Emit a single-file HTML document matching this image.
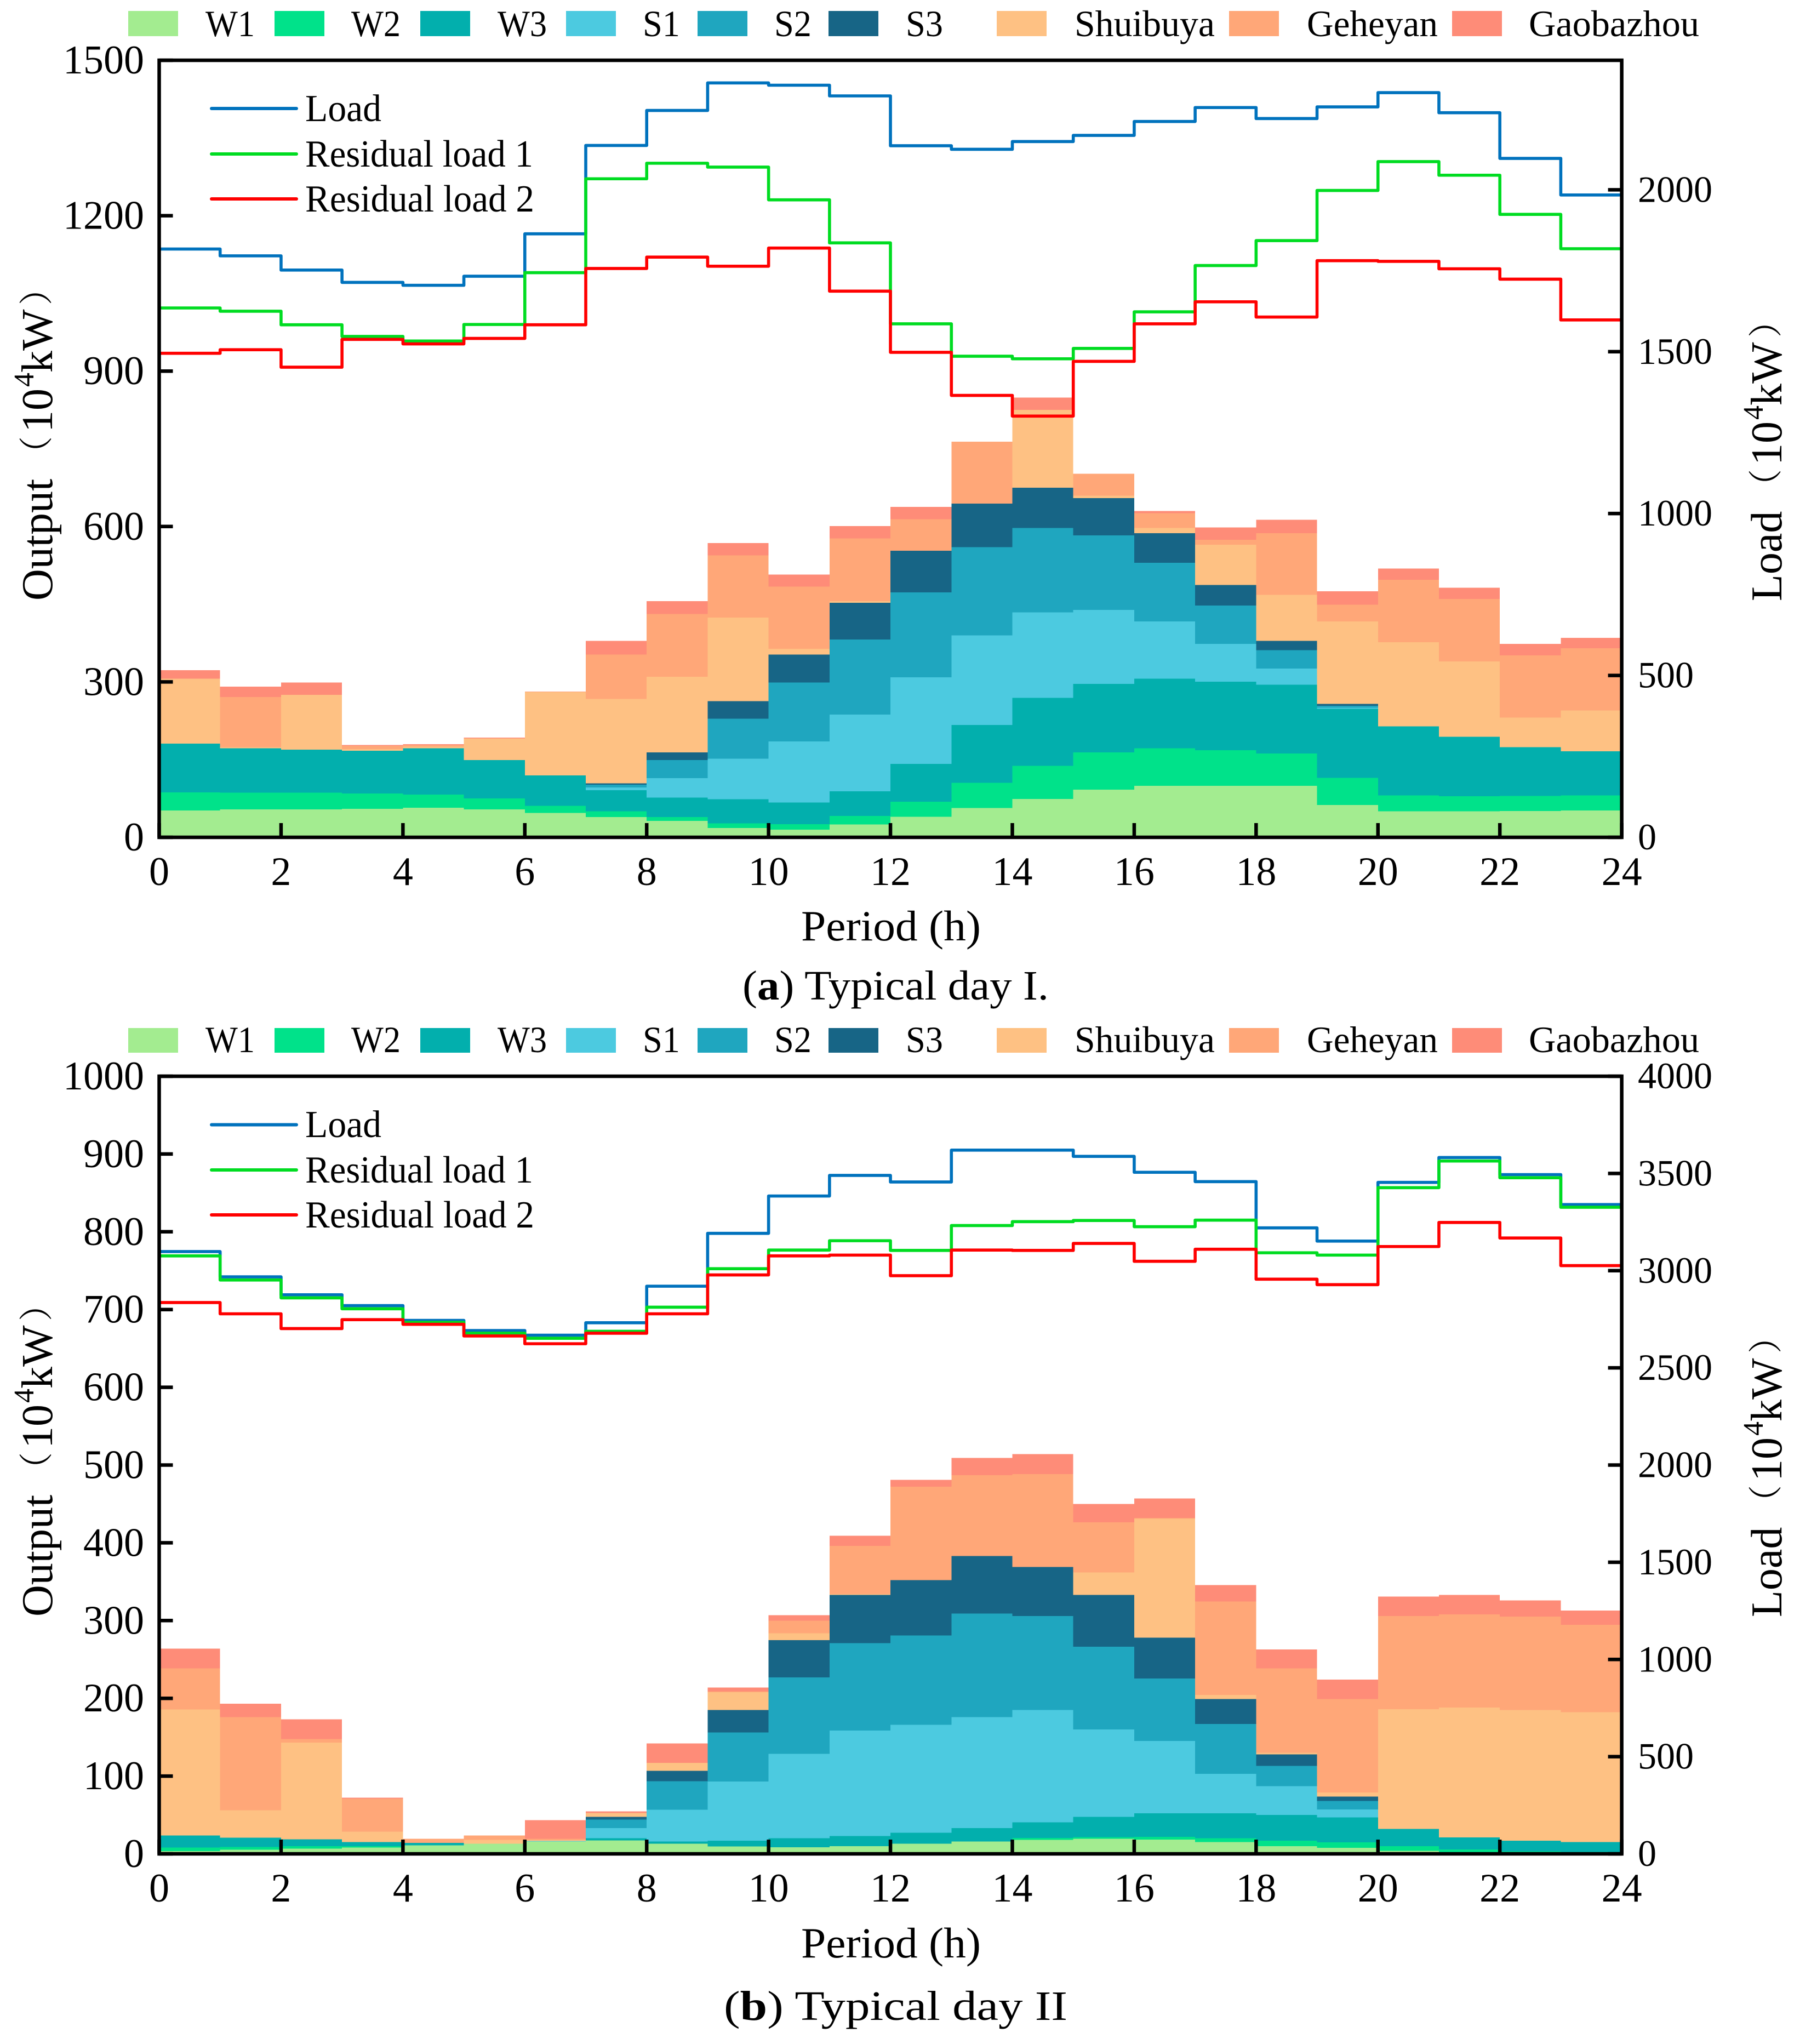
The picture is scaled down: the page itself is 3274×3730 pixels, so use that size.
<!DOCTYPE html>
<html lang="en">
<head>
<meta charset="utf-8">
<title>Typical day output and load</title>
<style>
html,body{margin:0;padding:0;background:#fff;}
svg{display:block;}
text{font-family:"Liberation Serif","Noto Serif CJK SC",serif;fill:#000;}
.lg{font-size:68px;}
.il{font-size:70px;}
.at{font-size:80px;}
.xt{font-size:78px;}
.cap{font-size:76px;}
.pn{font-size:62px;}
.su{font-size:52px;}
</style>
</head>
<body>
<svg id="figure" xmlns="http://www.w3.org/2000/svg" width="3274" height="3730" viewBox="0 0 3274 3730">
  <rect x="0" y="0" width="3274" height="3730" fill="#ffffff"/>

  <g id="panel-a"></g>
  <g id="panel-b"></g>

  <!-- Top legend, panel a -->
  <g>
    <g><rect x="234" y="20" width="91" height="46" fill="#A3EC90"/><text class="lg" x="375" y="66" textLength="90" lengthAdjust="spacingAndGlyphs">W1</text></g>
    <g><rect x="501" y="20" width="91" height="46" fill="#00E28A"/><text class="lg" x="641" y="66" textLength="90" lengthAdjust="spacingAndGlyphs">W2</text></g>
    <g><rect x="767" y="20" width="91" height="46" fill="#02AFAD"/><text class="lg" x="908" y="66" textLength="90" lengthAdjust="spacingAndGlyphs">W3</text></g>
    <g><rect x="1033" y="20" width="91" height="46" fill="#4CCAE0"/><text class="lg" x="1173" y="66" textLength="68" lengthAdjust="spacingAndGlyphs">S1</text></g>
    <g><rect x="1273" y="20" width="91" height="46" fill="#1FA6BF"/><text class="lg" x="1413" y="66" textLength="68" lengthAdjust="spacingAndGlyphs">S2</text></g>
    <g><rect x="1512" y="20" width="91" height="46" fill="#176586"/><text class="lg" x="1653" y="66" textLength="68" lengthAdjust="spacingAndGlyphs">S3</text></g>
    <g><rect x="1819" y="20" width="91" height="46" fill="#FEC183"/><text class="lg" x="1961" y="66" textLength="256" lengthAdjust="spacingAndGlyphs">Shuibuya</text></g>
    <g><rect x="2243" y="20" width="91" height="46" fill="#FFA778"/><text class="lg" x="2385" y="66" textLength="239" lengthAdjust="spacingAndGlyphs">Geheyan</text></g>
    <g><rect x="2650" y="20" width="91" height="46" fill="#FE8C78"/><text class="lg" x="2790" y="66" textLength="311" lengthAdjust="spacingAndGlyphs">Gaobazhou</text></g>
  </g>

  <!-- Line legend, panel a -->
  <g>
    <g><line x1="386" y1="198" x2="541" y2="198" stroke="#0072BD" stroke-width="6" stroke-linecap="round"/><text class="il" x="557" y="221" textLength="139" lengthAdjust="spacingAndGlyphs">Load</text></g>
    <g><line x1="386" y1="281" x2="541" y2="281" stroke="#00DC21" stroke-width="6" stroke-linecap="round"/><text class="il" x="557" y="304" textLength="416" lengthAdjust="spacingAndGlyphs">Residual load 1</text></g>
    <g><line x1="386" y1="363" x2="541" y2="363" stroke="#FF0000" stroke-width="6" stroke-linecap="round"/><text class="il" x="557" y="386" textLength="418" lengthAdjust="spacingAndGlyphs">Residual load 2</text></g>
  </g>

  <text class="at" transform="translate(95,1100) rotate(-90)"><tspan x="4" y="0">Output</tspan><tspan class="pn" x="242" y="-7">（</tspan><tspan x="311" y="0">10</tspan><tspan class="su" x="394" y="-34">4</tspan><tspan x="420" y="0">kW</tspan><tspan class="pn" x="543" y="-7">）</tspan></text>
  <text class="at" transform="translate(3251,1098) rotate(-90)"><tspan x="1" y="0">Load</tspan><tspan class="pn" x="180" y="-7">（</tspan><tspan x="249" y="0">10</tspan><tspan class="su" x="332" y="-34">4</tspan><tspan x="358" y="0">kW</tspan><tspan class="pn" x="482" y="-7">）</tspan></text>
  <text class="xt" x="1462" y="1716" textLength="328" lengthAdjust="spacingAndGlyphs">Period (h)</text>
  <text class="cap" x="1355" y="1824" textLength="559" lengthAdjust="spacingAndGlyphs">(<tspan font-weight="bold">a</tspan>) Typical day I.</text>

  <!-- Top legend, panel b -->
  <g>
    <g><rect x="234" y="1876" width="91" height="45" fill="#A3EC90"/><text class="lg" x="375" y="1920" textLength="90" lengthAdjust="spacingAndGlyphs">W1</text></g>
    <g><rect x="501" y="1876" width="91" height="45" fill="#00E28A"/><text class="lg" x="641" y="1920" textLength="90" lengthAdjust="spacingAndGlyphs">W2</text></g>
    <g><rect x="767" y="1876" width="91" height="45" fill="#02AFAD"/><text class="lg" x="908" y="1920" textLength="90" lengthAdjust="spacingAndGlyphs">W3</text></g>
    <g><rect x="1033" y="1876" width="91" height="45" fill="#4CCAE0"/><text class="lg" x="1173" y="1920" textLength="68" lengthAdjust="spacingAndGlyphs">S1</text></g>
    <g><rect x="1273" y="1876" width="91" height="45" fill="#1FA6BF"/><text class="lg" x="1413" y="1920" textLength="68" lengthAdjust="spacingAndGlyphs">S2</text></g>
    <g><rect x="1512" y="1876" width="91" height="45" fill="#176586"/><text class="lg" x="1653" y="1920" textLength="68" lengthAdjust="spacingAndGlyphs">S3</text></g>
    <g><rect x="1819" y="1876" width="91" height="45" fill="#FEC183"/><text class="lg" x="1961" y="1920" textLength="256" lengthAdjust="spacingAndGlyphs">Shuibuya</text></g>
    <g><rect x="2243" y="1876" width="91" height="45" fill="#FFA778"/><text class="lg" x="2385" y="1920" textLength="239" lengthAdjust="spacingAndGlyphs">Geheyan</text></g>
    <g><rect x="2650" y="1876" width="91" height="45" fill="#FE8C78"/><text class="lg" x="2790" y="1920" textLength="311" lengthAdjust="spacingAndGlyphs">Gaobazhou</text></g>
  </g>

  <!-- Line legend, panel b -->
  <g>
    <g><line x1="386" y1="2052.5" x2="541" y2="2052.5" stroke="#0072BD" stroke-width="6" stroke-linecap="round"/><text class="il" x="557" y="2075" textLength="139" lengthAdjust="spacingAndGlyphs">Load</text></g>
    <g><line x1="386" y1="2135" x2="541" y2="2135" stroke="#00DC21" stroke-width="6" stroke-linecap="round"/><text class="il" x="557" y="2158" textLength="416" lengthAdjust="spacingAndGlyphs">Residual load 1</text></g>
    <g><line x1="386" y1="2217" x2="541" y2="2217" stroke="#FF0000" stroke-width="6" stroke-linecap="round"/><text class="il" x="557" y="2240" textLength="418" lengthAdjust="spacingAndGlyphs">Residual load 2</text></g>
  </g>

  <text class="at" transform="translate(95,2954) rotate(-90)"><tspan x="4" y="0">Output</tspan><tspan class="pn" x="242" y="-7">（</tspan><tspan x="311" y="0">10</tspan><tspan class="su" x="394" y="-34">4</tspan><tspan x="420" y="0">kW</tspan><tspan class="pn" x="543" y="-7">）</tspan></text>
  <text class="at" transform="translate(3251,2952) rotate(-90)"><tspan x="1" y="0">Load</tspan><tspan class="pn" x="180" y="-7">（</tspan><tspan x="249" y="0">10</tspan><tspan class="su" x="332" y="-34">4</tspan><tspan x="358" y="0">kW</tspan><tspan class="pn" x="482" y="-7">）</tspan></text>
  <text class="xt" x="1462" y="3572" textLength="328" lengthAdjust="spacingAndGlyphs">Period (h)</text>
  <text class="cap" x="1321" y="3686" textLength="627" lengthAdjust="spacingAndGlyphs">(<tspan font-weight="bold">b</tspan>) Typical day II</text>
</svg>

<script>
// Shared categories and tick labels
const hourTickLabels = [0, 2, 4, 6, 8, 10, 12, 14, 16, 18, 20, 22, 24];
const seriesNames = ['w1', 'w2', 'w3', 's1', 's2', 's3', 'shuibuya', 'geheyan', 'gaobazhou'];
const lineNames = ['load', 'residual-load-1', 'residual-load-2'];

// Typical day I: hourly output, 10^4 kW (left axis)
const day1W1 = [52,54,54,55,57,54,47,39,31.6,18,15,25,39.5,56.5,74,92,99.6,99.6,99.6,62.5,50,50,51,51.6];
const day1W2 = [35,32,32,29.5,25.6,21,14,11,7.4,9,10.5,16,29.5,48.5,64,72,72.4,68.4,62.4,52.5,31,29.5,29,29.4];
const day1W3 = [94,86,83.5,82.5,89.4,74,58.5,41,37.5,46.5,41.5,48,73,112,131,132,134,132.6,132.5,133,133,114.5,94,85];
const day1S1 = [0,0,0,0,0,0,0,5,37.5,78.5,118,148,167,173,165,143,111,73,31.5,2,0,0,0,0];
const day1S2 = [0,0,0,0,0,0,0,5.5,35,77,114,145,164,170,163,144,113,74.1,35,4,0,0,0,0];
const day1S3 = [0,0,0,0,0,0,0,2.5,15,34,54,71,80,84,78,72,57,39.4,18,3.5,0,0,0,0];
const day1Shuibuya = [125.5,2,105.5,3.5,3,42,161.5,163,146,161,11,3,0,0,150,4.5,10,78,89,159.1,162.5,145.5,57,79];
const day1Geheyan = [0,97,0,6.1,3,0,0,86,121,120,120,121,61,120,0,42.5,28.5,9.5,119,32.4,120.5,120.5,120,120];
const day1Gaobazhou = [16,20,24,1.4,2,1.7,0.5,26,25,24,23,24,24,0,24,0,4.5,23.5,26,26,22,22,22.5,20];

// Typical day I: load curves, 10^4 kW (right axis)
const day1Load = [1817,1796,1752,1714,1705,1733,1864,2137,2245,2330,2323,2290,2136,2125,2149,2168,2211,2254,2220,2256,2300,2238,2097,1984];
const day1Residual1 = [1635,1625,1583,1547,1533,1584,1744,2034,2082,2070,1969,1836,1586,1486,1478,1510,1623,1766,1843,1998,2087,2045,1924,1818];
const day1Residual2 = [1495,1506,1452,1538,1524,1541,1583,1757,1792,1764,1820,1687,1498,1365,1301,1470,1586,1654,1607,1781,1779,1756,1724,1598];

// Typical day I: tick labels
const day1LeftTicks = [0, 300, 600, 900, 1200, 1500];
const day1RightTicks = [0, 500, 1000, 1500, 2000];

// Typical day II: hourly output, 10^4 kW (left axis)
const day2W1 = [3.5,5.3,6.6,8,11,13,16,17.3,13,9.4,8.5,10,13,15.7,18,19.3,18.4,15,10,7.6,4,2,2,1.5];
const day2W2 = [4.5,3.5,3.2,2,0,0,0,0,0,0,0,0,0,0,2.6,2.3,3.6,5,6.8,7.1,6,3.6,1,1];
const day2W3 = [15.6,12,8.8,5,3,0,0,2.7,2.7,7.6,11.5,13,14,17.3,19.8,26,30,32,33.2,32,22,15.4,14,12.5];
const day2S1 = [0,0,0,0,0,0,0.7,13,40.9,76,108.5,135.6,139,143,144.6,112.4,93,51,37,10.3,0,0,0,0];
const day2S2 = [0,0,0,0,0,0,0,11,36.8,63,98.5,112.4,115,133,121,106.5,80.6,64,26,11,0,0,0,0];
const day2S3 = [0,0,0,0,0,0,0,3.5,13.2,29,48,62,71,74,63,66.5,52.4,32,15,5.6,0,0,0,0];
const day2Shuibuya = [162,35.2,124.4,13.6,0,5,0.9,5,10.4,23,8.6,1,0,0,0,29,153,5.5,2,5.4,154,167,168,167];
const day2Geheyan = [52.9,120,4.5,42.4,5.5,5.6,1.9,0,0,1,16.4,62,120,104,119.5,64.5,1,120,108.7,120,120,120,120,112.6];
const day2Gaobazhou = [25.5,17,25.5,1.4,0,0,23.9,2.2,25,5,7,13,9,22,25.5,23.5,25,21.1,24.3,25,25,25,21,18.4];

// Typical day II: load curves, 10^4 kW (right axis)
const day2Load = [3098,2968,2876,2820,2744,2692,2668,2732,2920,3192,3384,3490,3456,3620,3620,3588,3506,3458,3220,3152,3454,3582,3494,3340];
const day2Residual1 = [3076,2952,2860,2804,2734,2678,2652,2688,2812,3010,3106,3154,3104,3232,3252,3258,3226,3260,3092,3080,3427,3564,3478,3326];
const day2Residual2 = [2836,2778,2702,2748,2724,2664,2624,2678,2778,2978,3076,3080,2974,3106,3104,3140,3048,3110,2956,2928,3124,3248,3168,3026];

// Typical day II: tick labels
const day2LeftTicks = [0, 100, 200, 300, 400, 500, 600, 700, 800, 900, 1000];
const day2RightTicks = [0, 500, 1000, 1500, 2000, 2500, 3000, 3500, 4000];

const SVG_NS = 'http://www.w3.org/2000/svg';
const stackColors = ['#A3EC90', '#00E28A', '#02AFAD', '#4CCAE0', '#1FA6BF', '#176586', '#FEC183', '#FFA778', '#FE8C78'];
const lineColors = ['#0072BD', '#00DC21', '#FF0000'];
const plotLeft = 290.5;
const plotRight = 2959.6;
const hourSpan = 24;

function xScale(h) {
  return plotLeft + (h / hourSpan) * (plotRight - plotLeft);
}

function makeScale(maxValue, top, bottom) {
  return function (v) {
    return bottom - (v / maxValue) * (bottom - top);
  };
}

function addLine(parent, x1, y1, x2, y2) {
  const el = document.createElementNS(SVG_NS, 'line');
  el.setAttribute('x1', x1);
  el.setAttribute('y1', y1);
  el.setAttribute('x2', x2);
  el.setAttribute('y2', y2);
  el.setAttribute('stroke', '#000');
  el.setAttribute('stroke-width', 6.5);
  parent.appendChild(el);
  return el;
}

function addLabel(parent, x, y, anchor, size, value) {
  const el = document.createElementNS(SVG_NS, 'text');
  el.setAttribute('x', x);
  el.setAttribute('y', y);
  el.setAttribute('text-anchor', anchor);
  el.setAttribute('font-size', size);
  el.textContent = String(value);
  parent.appendChild(el);
  return el;
}

function drawPanel(root, top, bottom, leftMax, rightMax, stacks, lines, leftTicks, rightTicks) {
  const yLeft = makeScale(leftMax, top, bottom);
  const yRight = makeScale(rightMax, top, bottom);
  const running = stacks[0].map(function () { return 0; });

  stacks.forEach(function (values, s) {
    const lower = running.slice();
    values.forEach(function (v, i) { running[i] += v; });
    let d = '';
    running.forEach(function (v, i) {
      d += (i === 0 ? 'M' : 'L') + xScale(i) + ' ' + yLeft(v) + 'L' + xScale(i + 1) + ' ' + yLeft(v);
    });
    for (let i = lower.length - 1; i >= 0; i--) {
      d += 'L' + xScale(i + 1) + ' ' + yLeft(lower[i]) + 'L' + xScale(i) + ' ' + yLeft(lower[i]);
    }
    d += 'Z';
    const area = document.createElementNS(SVG_NS, 'path');
    
    
    area.setAttribute('d', d);
    area.setAttribute('fill', stackColors[s]);
    area.setAttribute('shape-rendering', 'crispEdges');
    root.appendChild(area);
  });

  hourTickLabels.forEach(function (h) {
    const tick = addLine(root, xScale(h), bottom, xScale(h), bottom - 26);
    
    
    const label = addLabel(root, xScale(h), bottom + 87, 'middle', 74, h);
    
    
  });

  leftTicks.forEach(function (v) {
    const tick = addLine(root, plotLeft, yLeft(v), plotLeft + 25, yLeft(v));
    
    
    const label = addLabel(root, 263, yLeft(v) + 24, 'end', 74, v);
    
    
  });

  rightTicks.forEach(function (v) {
    const tick = addLine(root, plotRight, yRight(v), plotRight - 25, yRight(v));
    
    
    const label = addLabel(root, 2989, yRight(v) + 22, 'start', 68, v);
    
    
  });

  lines.forEach(function (values, s) {
    let d = '';
    values.forEach(function (v, i) {
      d += (i === 0 ? 'M' : 'L') + xScale(i) + ' ' + yRight(v) + 'L' + xScale(i + 1) + ' ' + yRight(v);
    });
    const curve = document.createElementNS(SVG_NS, 'path');
    
    
    curve.setAttribute('d', d);
    curve.setAttribute('fill', 'none');
    curve.setAttribute('stroke', lineColors[s]);
    curve.setAttribute('stroke-width', 5.6);
    curve.setAttribute('stroke-linejoin', 'round');
    root.appendChild(curve);
  });

  const frame = document.createElementNS(SVG_NS, 'rect');
  
  
  frame.setAttribute('x', plotLeft);
  frame.setAttribute('y', top);
  frame.setAttribute('width', plotRight - plotLeft);
  frame.setAttribute('height', bottom - top);
  frame.setAttribute('fill', 'none');
  frame.setAttribute('stroke', '#000');
  frame.setAttribute('stroke-width', 6.5);
  root.appendChild(frame);
}

drawPanel(
  document.getElementById('panel-a'), 110, 1528, 1500, 2400,
  [day1W1, day1W2, day1W3, day1S1, day1S2, day1S3, day1Shuibuya, day1Geheyan, day1Gaobazhou],
  [day1Load, day1Residual1, day1Residual2],
  day1LeftTicks, day1RightTicks
);

drawPanel(
  document.getElementById('panel-b'), 1964, 3383, 1000, 4000,
  [day2W1, day2W2, day2W3, day2S1, day2S2, day2S3, day2Shuibuya, day2Geheyan, day2Gaobazhou],
  [day2Load, day2Residual1, day2Residual2],
  day2LeftTicks, day2RightTicks
);
</script>
</body>
</html>
